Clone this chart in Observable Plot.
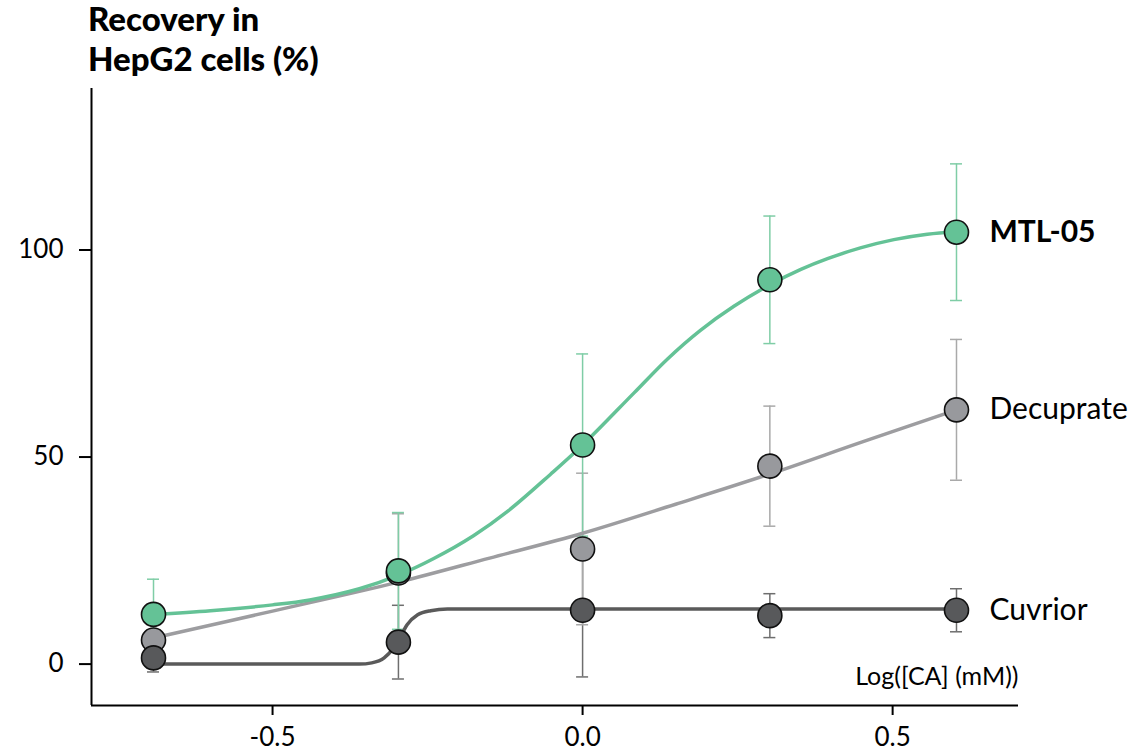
<!DOCTYPE html>
<html>
<head>
<meta charset="utf-8">
<script src="https://cdn.jsdelivr.net/npm/d3@7"></script>
<script src="https://cdn.jsdelivr.net/npm/@observablehq/plot@0.6"></script>
<style>
  html, body { margin: 0; padding: 0; background: #fff; }
  #wrap { position: relative; width: 1136px; height: 752px; font-family: Lato, "Noto Sans", sans-serif; }
  #title { position: absolute; left: 88px; top: -2px; font-weight: 900; font-size: 33px; line-height: 40px; color: #000; }
  #chart { position: absolute; left: 0; top: 0; }
</style>
</head>
<body>
<div id="wrap">
  <div id="chart"></div>
  <div id="title">Recovery in<br>HepG2 cells (%)</div>
</div>
<script>
// log10 of concentration (mM), as placed in the picture
const logConc = [-0.692, -0.297, 0, 0.302, 0.603];
const seriesNames = ["MTL-05", "Decuprate", "Cuvrior"];

// Mean recovery (%) and standard deviation per series
const mtlMean = [12.0, 22.5, 52.9, 92.8, 104.3];
const mtlSD   = [8.5, 14.1, 22.0, 15.4, 16.5];
const decMean = [5.8, 22.0, 27.8, 47.8, 61.4];
const decSD   = [4.5, 14.3, 18.3, 14.5, 17.0];
const cuvMean = [1.5, 5.3, 13.0, 11.7, 13.0];
const cuvSD   = [3.4, 8.9, 16.1, 5.3, 5.2];

// Fitted curves
const mtlFitX = [-0.692, -0.6, -0.5, -0.44, -0.36, -0.297, -0.24, -0.176, -0.12, -0.052, 0, 0.083, 0.137, 0.19, 0.244, 0.302, 0.352, 0.395, 0.448, 0.502, 0.556, 0.603];
const mtlFitY = [12.0, 12.9, 14.3, 15.5, 18.2, 21.5, 25.5, 31.0, 37.0, 45.8, 52.9, 65.5, 73.7, 80.6, 86.4, 91.6, 95.3, 97.9, 100.5, 102.5, 103.8, 104.4];
const decFitX = [-0.692, -0.5, -0.297, -0.15, 0, 0.15, 0.302, 0.45, 0.603];
const decFitY = [6.3, 12.8, 19.8, 25.6, 31.6, 38.6, 45.9, 53.6, 61.4];
const cuvFitX = [-0.692, -0.36, -0.34, -0.32, -0.305, -0.295, -0.283, -0.266, -0.245, -0.218, 0.603];
const cuvFitY = [0, 0, 0.3, 1.5, 3.9, 6.3, 9.5, 11.9, 12.9, 13.3, 13.3];

const xTicks = [-0.5, 0, 0.5];
const yTicks = [0, 50, 100];

const colors = {
  "MTL-05":   {fill: "#64c296", line: "#64c296", err: "#7fcda6"},
  "Decuprate":{fill: "#98999d", line: "#9d9da0", err: "#a9a9a9"},
  "Cuvrior":  {fill: "#58595b", line: "#5a5a5a", err: "#6e6e6e"}
};

const means = {"MTL-05": mtlMean, "Decuprate": decMean, "Cuvrior": cuvMean};
const sds = {"MTL-05": mtlSD, "Decuprate": decSD, "Cuvrior": cuvSD};
const fits = {
  "MTL-05": [mtlFitX, mtlFitY],
  "Decuprate": [decFitX, decFitY],
  "Cuvrior": [cuvFitX, cuvFitY]
};

const pts = {};
for (const s of seriesNames) {
  pts[s] = logConc.map((x, i) => ({series: s, x, y: means[s][i], lo: means[s][i] - sds[s][i], hi: means[s][i] + sds[s][i]}));
}
const fitRows = {};
for (const s of seriesNames) {
  fitRows[s] = fits[s][0].map((x, i) => ({x, y: fits[s][1][i]}));
}

const drawOrder = ["Cuvrior", "Decuprate", "MTL-05"];
const pointOrder = ["Decuprate", "Cuvrior", "MTL-05"];

const marks = [];
// error bars
for (const s of drawOrder) {
  const c = colors[s].err;
  marks.push(Plot.ruleX(pts[s], {x: "x", y1: "lo", y2: "hi", stroke: c, strokeWidth: 1.5}));
  marks.push(Plot.ruleY(pts[s], {y: "hi", x1: "x", x2: "x", insetLeft: -6, insetRight: -6, stroke: c, strokeWidth: 1.5}));
  marks.push(Plot.ruleY(pts[s], {y: "lo", x1: "x", x2: "x", insetLeft: -6, insetRight: -6, stroke: c, strokeWidth: 1.5}));
}
// fitted curves
for (const s of ["Decuprate", "Cuvrior", "MTL-05"]) {
  marks.push(Plot.line(fitRows[s], {x: "x", y: "y", stroke: colors[s].line, strokeWidth: 3.5, curve: s === "Cuvrior" ? "monotone-x" : "catmull-rom"}));
}
// points
for (const s of pointOrder) {
  marks.push(Plot.dot(pts[s], {x: "x", y: "y", r: 12, fill: colors[s].fill, stroke: "#111", strokeWidth: 1.6}));
}
// series labels
for (const s of seriesNames) {
  const row = [{series: s, x: logConc[logConc.length - 1], y: means[s][means[s].length - 1]}];
  marks.push(Plot.text(row, {
    x: "x", y: "y", text: "series", dx: 33, textAnchor: "start", fontSize: 30,
    fontWeight: s === "MTL-05" ? "bold" : "normal", fill: "#000"
  }));
}

const chart = Plot.plot({
  width: 1136,
  height: 752,
  marginLeft: 91,
  marginRight: 118,
  marginTop: 88,
  marginBottom: 47,
  style: {fontFamily: 'Lato, "Noto Sans", sans-serif', background: "transparent", color: "#000", overflow: "visible"},
  x: {domain: [-0.792, 0.703]},
  y: {domain: [-10, 139]},
  marks: [
    Plot.axisY({ticks: yTicks, tickSize: 12, tickPadding: 16, strokeWidth: 2, label: null, fontSize: 26}),
    Plot.axisX({ticks: xTicks, tickSize: 10, tickPadding: 12, strokeWidth: 2, label: null, fontSize: 26, tickFormat: d => d.toFixed(1)}),
    Plot.ruleX([-0.792], {stroke: "#000", strokeWidth: 2}),
    Plot.ruleY([-10], {stroke: "#000", strokeWidth: 2}),
    Plot.text(["Log([CA] (mM))"], {frameAnchor: "bottom-right", text: d => d, textAnchor: "end", lineAnchor: "bottom", dy: -21, fontSize: 25, fill: "#000"}),
    ...marks
  ]
});
document.getElementById("chart").appendChild(chart);
</script>
</body>
</html>
